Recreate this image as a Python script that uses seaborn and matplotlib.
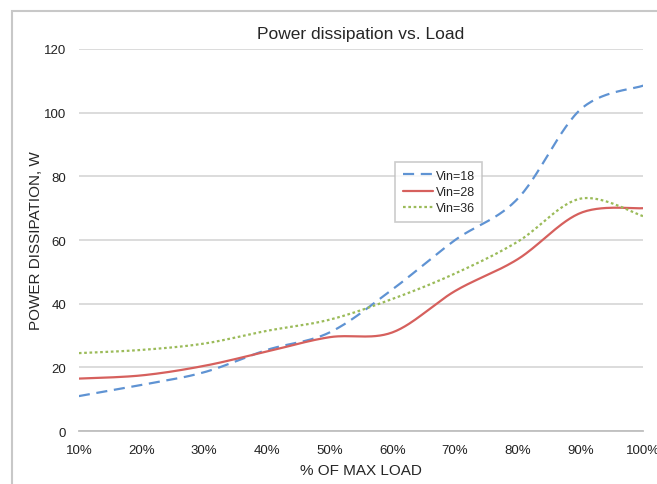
import numpy as np
import pandas as pd
import matplotlib
matplotlib.use("Agg")
import matplotlib.pyplot as plt
import seaborn as sns
from matplotlib.patches import Rectangle

# === Data (power dissipation in W at each % of max load) ===
load_pct = [10, 20, 30, 40, 50, 60, 70, 80, 90, 100]
vin_18 = [11.0, 14.5, 18.5, 25.5, 31.0, 44.5, 60.0, 73.0, 101.0, 108.5]
vin_28 = [16.5, 17.5, 20.5, 25.0, 29.5, 31.0, 44.0, 54.0, 68.5, 70.0]
vin_36 = [24.5, 25.5, 27.5, 31.5, 35.0, 41.5, 49.5, 59.5, 73.0, 67.5]
series_names = ["Vin=18", "Vin=28", "Vin=36"]
x_ticklabels = [f"{p}%" for p in load_pct]


# Excel-style "smoothed line" rendering (Catmull-Rom through the data points)
def smooth(xs, ys, n=30):
    xs = np.asarray(xs, float)
    ys = np.asarray(ys, float)
    px = np.concatenate([[xs[0]], xs, [xs[-1]]])
    py = np.concatenate([[ys[0]], ys, [ys[-1]]])
    out_x, out_y = [], []
    t = np.linspace(0, 1, n, endpoint=False)
    for i in range(1, len(px) - 2):
        p0, p1, p2, p3 = (np.array([px[j], py[j]]) for j in (i - 1, i, i + 1, i + 2))
        c1 = p1 + (p2 - p0) / 6
        c2 = p2 - (p3 - p1) / 6
        pts = ((1 - t) ** 3)[:, None] * p1 + (3 * (1 - t) ** 2 * t)[:, None] * c1 \
            + (3 * (1 - t) * t ** 2)[:, None] * c2 + (t ** 3)[:, None] * p2
        out_x.extend(pts[:, 0])
        out_y.extend(pts[:, 1])
    out_x.append(xs[-1])
    out_y.append(ys[-1])
    return out_x, out_y


frames = []
for name, vals in zip(series_names, [vin_18, vin_28, vin_36]):
    sx, sy = smooth(load_pct, vals)
    frames.append(pd.DataFrame({"load": sx, "power": sy, "series": name}))
df = pd.concat(frames, ignore_index=True)

sns.set_style("white")
plt.rcParams["font.family"] = ["Liberation Sans", "DejaVu Sans"]

fig = plt.figure(figsize=(6.57, 4.85), dpi=100)
ax = fig.add_axes([0.120, 0.109, 0.859, 0.788])

# outer chart frame
fig.patches.append(Rectangle((12 / 657, -0.1), 1.2, 1 - 12 / 485 + 0.1, transform=fig.transFigure,
                             fill=False, edgecolor="#c8c8c8", linewidth=1.5, zorder=0))

palette = {"Vin=18": "#5f93d3", "Vin=28": "#d6605d", "Vin=36": "#9bbb59"}
sns.lineplot(data=df, x="load", y="power", hue="series", style="series", palette=palette,
             dashes={"Vin=18": (5, 3), "Vin=28": "", "Vin=36": (1.2, 1.2)},
             linewidth=1.6, sort=False, ax=ax)

ax.set_xlim(10, 100)
ax.set_ylim(0, 120)
ax.set_xticks(load_pct)
ax.set_xticklabels(x_ticklabels)
ax.set_yticks(range(0, 121, 20))
ax.yaxis.grid(True, color="#d9d9d9", linewidth=1.3)
ax.set_axisbelow(True)
for s in ["left", "right", "top"]:
    ax.spines[s].set_visible(False)
ax.spines["bottom"].set_color("#bfbfbf")
ax.spines["bottom"].set_linewidth(1.3)
ax.tick_params(axis="both", length=0, labelsize=9.5, colors="#222222", pad=9)

ax.set_title("Power dissipation vs. Load", fontsize=12.5, pad=8)
ax.set_xlabel("% OF MAX LOAD", fontsize=11, labelpad=5)
ax.set_ylabel("POWER DISSIPATION, W", fontsize=11, labelpad=1)

leg = ax.legend(loc="upper left", bbox_to_anchor=(0.55, 0.72), fontsize=9, frameon=True,
                fancybox=False, shadow=False, handlelength=2.4, handletextpad=0.2,
                labelspacing=0.35, borderpad=0.6)
leg.get_frame().set_edgecolor("#bfbfbf")
leg.get_frame().set_linewidth(1.2)

fig.savefig("out.png", dpi=100)
